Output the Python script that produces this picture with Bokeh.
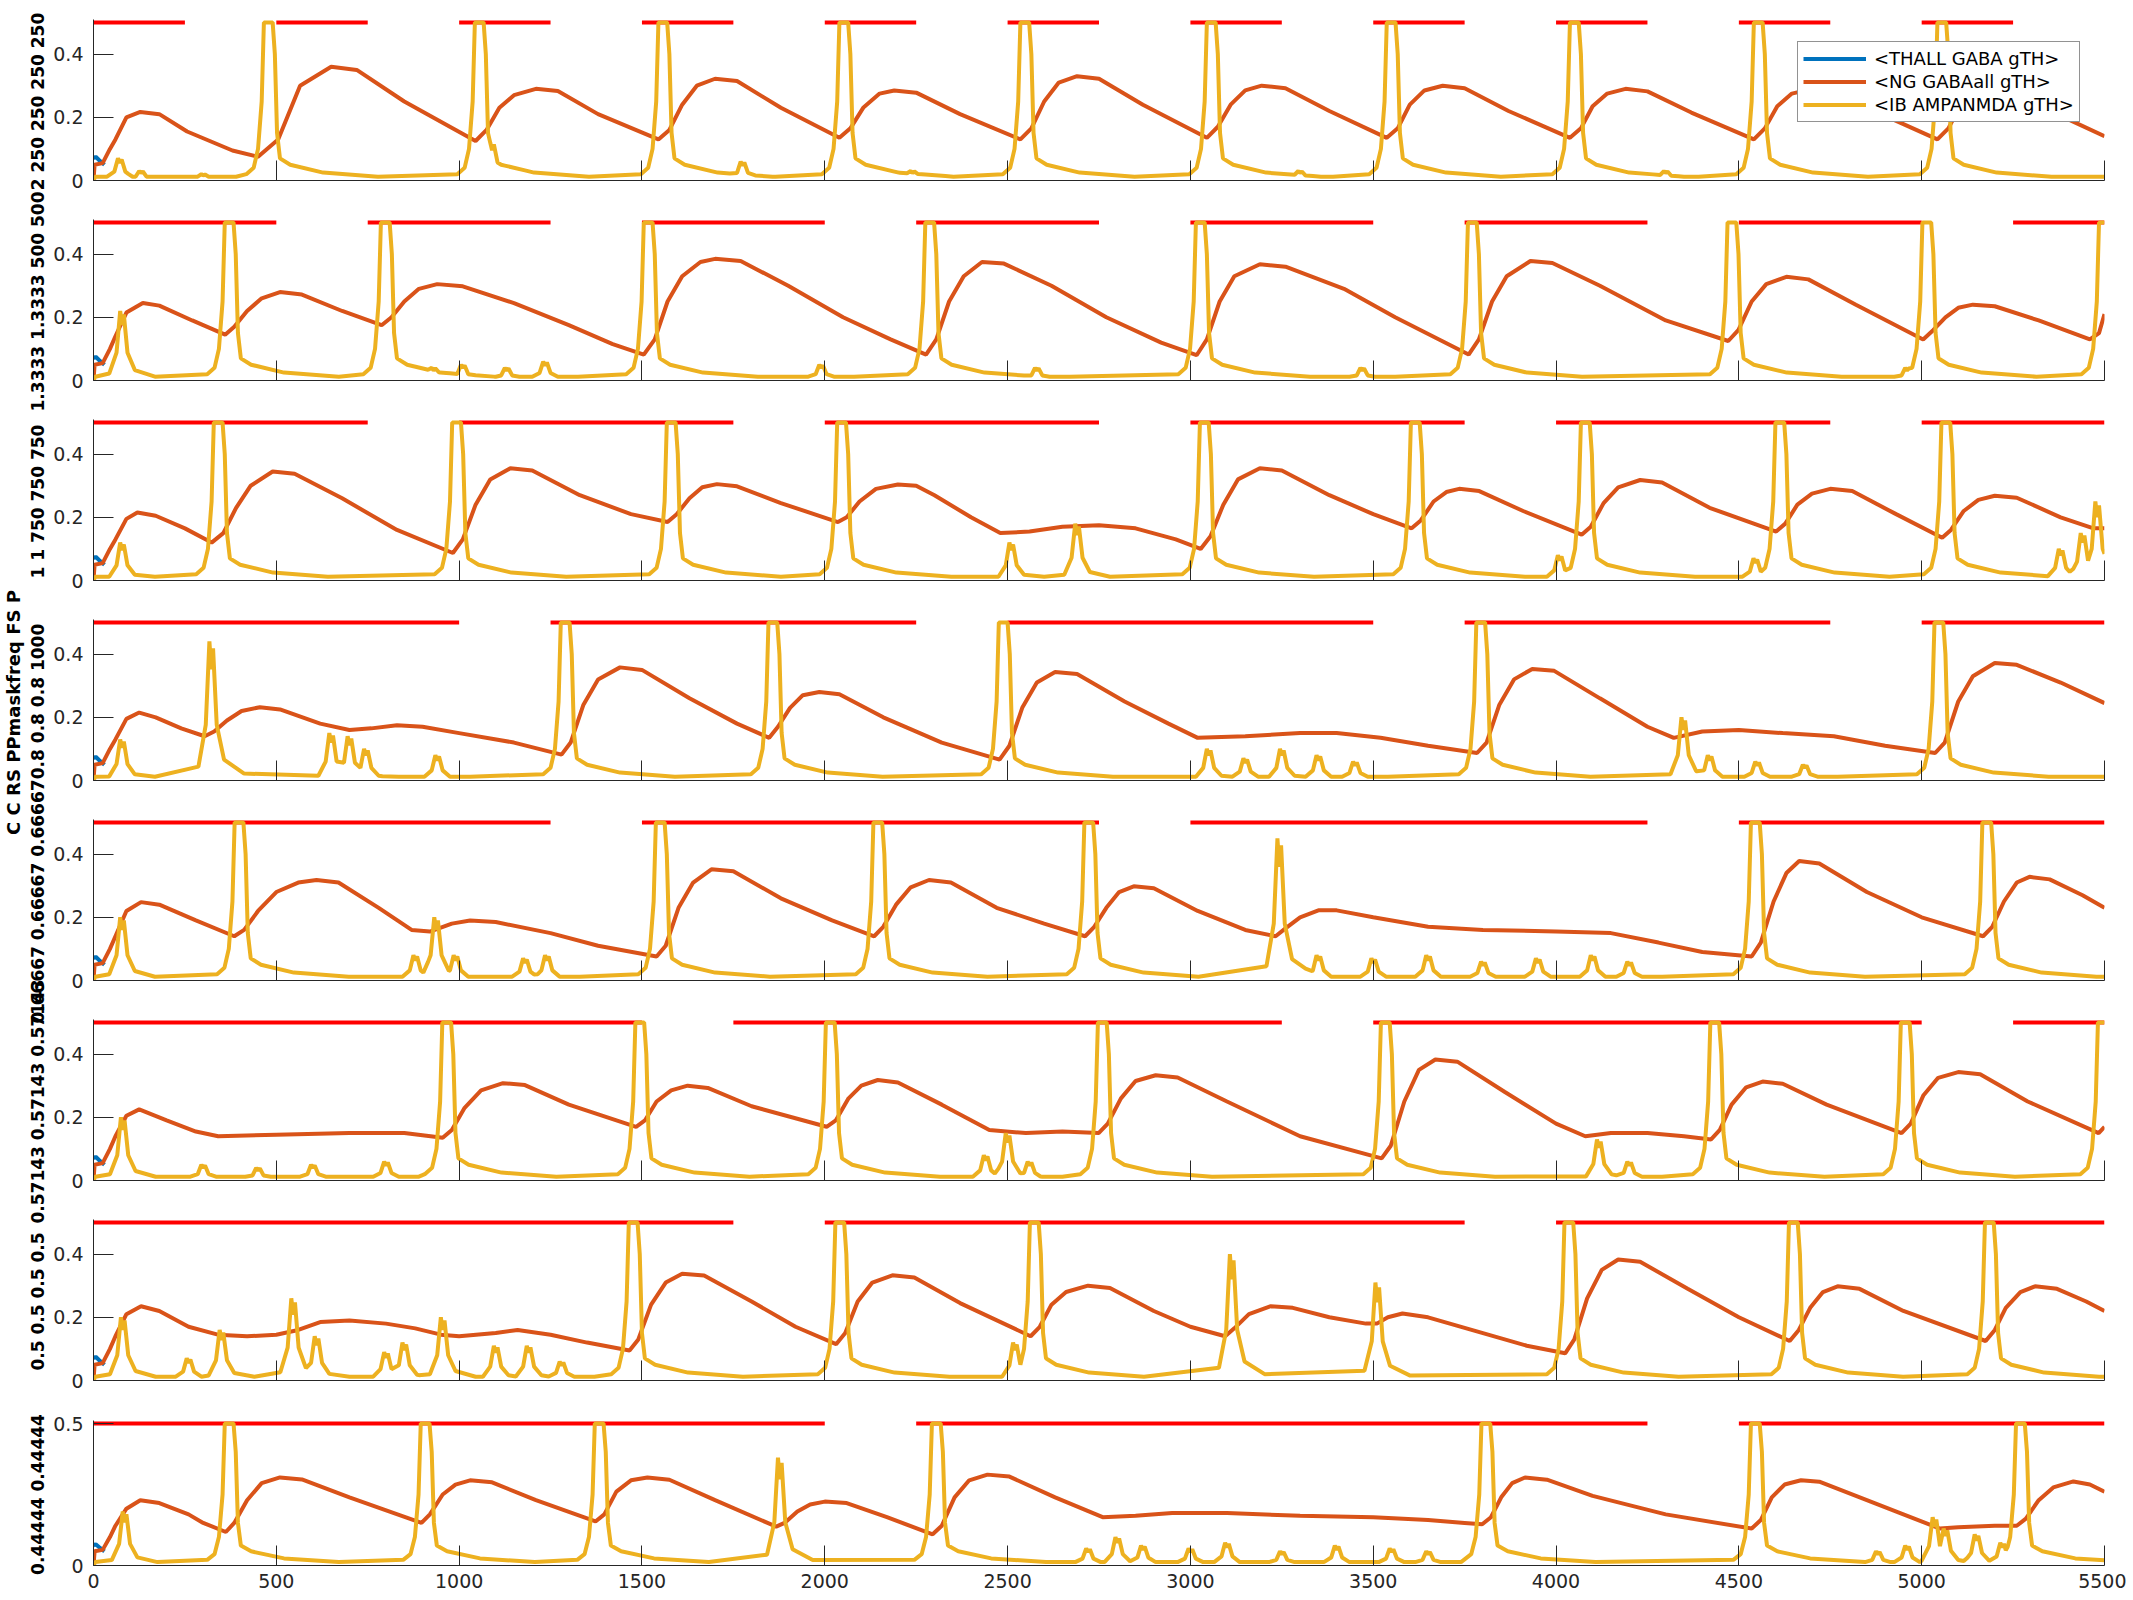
import numpy as np
from bokeh.plotting import figure
from bokeh.layouts import column, row
from bokeh.models import Range1d, FixedTicker, Legend, LegendItem, CustomJSTickFormatter
from bokeh.core.properties import value
from bokeh.embed import file_html
from bokeh.resources import INLINE

T_END = 5500
x_ticks = list(range(0, 5501, 500))

# y-label texts (overlapping parameter labels of the original)
side_label = "C C RS PPmaskfreq FS P"
panel_labels = ["2 250 250 250 250", "1.3333 1.3333 500 500", "1 1 750 750 750",
                "0.8 0.8 0.8 1000", "0.66667 0.66667 0.66667", "0.57143 0.57143 0.57143",
                "0.5 0.5 0.5 0.5", "0.44444 0.44444"]

# red mask windows (start, end) per panel
mask_1 = [(0, 250), (500, 750), (1000, 1250), (1500, 1750), (2000, 2250), (2500, 2750),
          (3000, 3250), (3500, 3750), (4000, 4250), (4500, 4750), (5000, 5250)]
mask_2 = [(0, 500), (750, 1250), (1500, 2000), (2250, 2750), (3000, 3500), (3750, 4250),
          (4500, 5000), (5250, 5500)]
mask_3 = [(0, 750), (1000, 1750), (2000, 2750), (3000, 3750), (4000, 4750), (5000, 5500)]
mask_4 = [(0, 1000), (1250, 2250), (2500, 3500), (3750, 4750), (5000, 5500)]
mask_5 = [(0, 1250), (1500, 2750), (3000, 4250), (4500, 5500)]
mask_6 = [(0, 1500), (1750, 3250), (3500, 5000), (5250, 5500)]
mask_7 = [(0, 1750), (2000, 3750), (4000, 5500)]
mask_8 = [(0, 2000), (2250, 4250), (4500, 5500)]

# <THALL GABA gTH> (only its start is visible, the rest lies under the other traces)
thall = [(0, 0.07), (6, 0.075), (15, 0.065), (30, 0.05)]

# <NG GABAall gTH> per panel (t, value)
ng_1 = [(0,0.0),(3,0.05),(25,0.055),(45,0.1),(60,0.13),(90,0.2),(128,0.217),(180,0.21),(256,0.155),(380,0.095),(450,0.075),
(505,0.13),(565,0.3),(650,0.36),(720,0.35),(850,0.25),(1045,0.125),
(1075,0.16),(1110,0.23),(1150,0.27),(1210,0.29),(1270,0.283),(1380,0.21),(1545,0.13),
(1575,0.16),(1610,0.24),(1650,0.3),(1700,0.322),(1760,0.315),(1880,0.23),(2040,0.135),
(2070,0.165),(2105,0.23),(2150,0.275),(2190,0.285),(2250,0.278),(2370,0.21),(2535,0.13),
(2565,0.165),(2600,0.25),(2640,0.31),(2690,0.33),(2750,0.322),(2870,0.24),(3045,0.135),
(3075,0.17),(3110,0.24),(3150,0.285),(3195,0.3),(3260,0.292),(3380,0.22),(3537,0.135),
(3567,0.165),(3600,0.24),(3640,0.285),(3690,0.3),(3750,0.292),(3870,0.22),(4038,0.135),
(4068,0.165),(4100,0.235),(4140,0.275),(4190,0.29),(4250,0.282),(4370,0.215),(4541,0.13),
(4571,0.165),(4605,0.235),(4645,0.275),(4700,0.29),(4760,0.282),(4880,0.215),(5043,0.13),
(5073,0.165),(5105,0.235),(5145,0.275),(5190,0.29),(5250,0.282),(5370,0.21),(5500,0.14)]
ng_2 = [(0,0.0),(3,0.05),(25,0.055),(45,0.1),(60,0.14),(90,0.215),(135,0.245),(180,0.237),(270,0.19),(360,0.145),
(385,0.17),(420,0.22),(460,0.26),(510,0.28),(570,0.272),(680,0.22),(788,0.175),
(815,0.2),(850,0.25),(890,0.29),(940,0.305),(1010,0.298),(1150,0.245),(1300,0.175),(1420,0.115),(1505,0.082),
(1535,0.13),(1570,0.25),(1610,0.33),(1660,0.375),(1700,0.385),(1770,0.378),(1900,0.3),(2050,0.2),(2180,0.13),(2277,0.082),
(2305,0.13),(2340,0.25),(2380,0.33),(2430,0.375),(2490,0.37),(2620,0.3),(2770,0.2),(2920,0.12),(3017,0.08),
(3045,0.13),(3080,0.25),(3120,0.33),(3190,0.368),(3260,0.36),(3420,0.29),(3560,0.2),(3680,0.13),(3761,0.082),
(3789,0.13),(3825,0.25),(3865,0.33),(3930,0.378),(3990,0.372),(4120,0.3),(4300,0.19),(4471,0.125),
(4499,0.16),(4535,0.25),(4575,0.305),(4630,0.328),(4690,0.32),(4820,0.24),(5004,0.13),
(5032,0.16),(5065,0.2),(5100,0.23),(5140,0.24),(5200,0.235),(5320,0.19),(5460,0.13),(5485,0.15),(5500,0.21)]
ng_3 = [(0,0.0),(3,0.05),(25,0.055),(45,0.1),(60,0.13),(90,0.195),(120,0.215),(170,0.205),(250,0.165),(323,0.12),
(355,0.15),(390,0.23),(430,0.3),(490,0.345),(550,0.338),(680,0.26),(830,0.16),(983,0.087),
(1010,0.13),(1045,0.24),(1085,0.32),(1140,0.355),(1200,0.348),(1330,0.27),(1470,0.21),(1570,0.185),
(1595,0.21),(1630,0.26),(1665,0.295),(1705,0.305),(1760,0.298),(1880,0.245),(2036,0.185),
(2060,0.2),(2095,0.25),(2140,0.29),(2200,0.304),(2250,0.3),(2300,0.27),(2400,0.2),(2480,0.15),(2560,0.155),(2650,0.17),(2750,0.175),(2850,0.165),(2960,0.13),(3028,0.1),
(3055,0.14),(3090,0.24),(3130,0.32),(3190,0.355),(3250,0.348),(3380,0.27),(3500,0.21),(3605,0.165),
(3630,0.19),(3665,0.25),(3700,0.28),(3735,0.29),(3790,0.283),(3910,0.22),(4070,0.145),
(4095,0.17),(4130,0.245),(4170,0.295),(4230,0.318),(4290,0.31),(4420,0.23),(4602,0.155),
(4627,0.18),(4660,0.24),(4700,0.275),(4750,0.29),(4810,0.283),(4930,0.21),(5056,0.135),
(5080,0.16),(5115,0.22),(5155,0.255),(5200,0.268),(5260,0.262),(5380,0.2),(5470,0.165),(5500,0.165)]
ng_4 = [(0,0.0),(3,0.05),(25,0.055),(45,0.1),(60,0.13),(90,0.195),(125,0.215),(170,0.2),(240,0.165),(304,0.14),
(330,0.155),(365,0.19),(405,0.22),(455,0.232),(510,0.225),(620,0.18),(700,0.16),(760,0.165),(830,0.175),(900,0.17),(1000,0.15),(1150,0.12),(1280,0.082),
(1305,0.12),(1340,0.24),(1380,0.32),(1440,0.358),(1500,0.35),(1630,0.26),(1760,0.18),(1848,0.135),
(1872,0.17),(1905,0.23),(1940,0.27),(1985,0.28),(2040,0.273),(2160,0.2),(2320,0.12),(2478,0.066),
(2505,0.11),(2540,0.23),(2580,0.31),(2630,0.343),(2690,0.337),(2820,0.25),(2940,0.18),(3020,0.135),(3150,0.14),(3300,0.15),(3400,0.15),(3520,0.135),(3650,0.11),(3784,0.087),
(3810,0.12),(3845,0.24),(3885,0.32),(3935,0.353),(3995,0.347),(4120,0.26),(4250,0.17),(4322,0.135),(4400,0.155),(4500,0.16),(4620,0.15),(4760,0.14),(4900,0.11),(5037,0.087),
(5063,0.12),(5100,0.25),(5140,0.33),(5200,0.372),(5260,0.366),(5380,0.31),(5500,0.245)]
ng_5 = [(0,0.0),(3,0.05),(25,0.055),(45,0.1),(60,0.14),(90,0.22),(130,0.248),(180,0.24),(280,0.19),(385,0.14),
(412,0.16),(450,0.22),(500,0.28),(560,0.31),(610,0.318),(670,0.31),(780,0.23),(870,0.16),(920,0.155),(980,0.18),(1030,0.19),(1100,0.185),(1250,0.15),(1380,0.11),(1540,0.076),
(1565,0.11),(1600,0.23),(1640,0.31),(1690,0.352),(1750,0.346),(1880,0.26),(2020,0.19),(2135,0.14),
(2160,0.17),(2195,0.24),(2235,0.295),(2285,0.318),(2345,0.31),(2470,0.23),(2600,0.18),(2712,0.14),
(2737,0.17),(2770,0.23),(2805,0.28),(2845,0.298),(2900,0.292),(3020,0.22),(3150,0.16),(3233,0.14),
(3260,0.165),(3300,0.2),(3350,0.222),(3400,0.222),(3500,0.2),(3650,0.17),(3800,0.16),(4000,0.155),(4150,0.15),(4280,0.12),(4400,0.09),(4535,0.076),
(4560,0.12),(4595,0.25),(4630,0.34),(4665,0.378),(4720,0.37),(4850,0.28),(5000,0.2),(5168,0.14),
(5193,0.17),(5225,0.25),(5260,0.31),(5295,0.328),(5350,0.32),(5440,0.27),(5500,0.23)]
ng_6 = [(0,0.0),(3,0.05),(25,0.055),(45,0.1),(60,0.14),(90,0.205),(125,0.225),(200,0.19),(280,0.155),(341,0.14),(500,0.145),(700,0.15),(850,0.15),(955,0.135),
(980,0.16),(1015,0.23),(1060,0.285),(1120,0.308),(1180,0.302),(1300,0.24),(1484,0.17),
(1508,0.19),(1540,0.25),(1580,0.285),(1625,0.3),(1680,0.293),(1800,0.235),(2005,0.17),
(2030,0.19),(2065,0.26),(2100,0.3),(2145,0.318),(2200,0.31),(2320,0.24),(2450,0.16),(2550,0.15),(2650,0.155),(2749,0.15),
(2774,0.18),(2810,0.26),(2850,0.315),(2905,0.333),(2965,0.326),(3100,0.25),(3300,0.14),(3523,0.07),
(3548,0.11),(3585,0.25),(3625,0.35),(3670,0.383),(3730,0.376),(3860,0.28),(4000,0.18),(4080,0.14),(4150,0.15),(4250,0.15),(4350,0.14),(4424,0.13),
(4448,0.16),(4480,0.24),(4520,0.295),(4565,0.313),(4620,0.306),(4740,0.24),(4945,0.15),
(4970,0.18),(5005,0.27),(5045,0.325),(5100,0.343),(5160,0.336),(5290,0.25),(5484,0.15),(5500,0.17)]
ng_7 = [(0,0.0),(3,0.05),(25,0.055),(45,0.1),(60,0.14),(90,0.21),(130,0.235),(180,0.22),(260,0.17),(340,0.145),(420,0.14),(500,0.145),(560,0.16),(620,0.185),(700,0.19),(800,0.18),(880,0.165),(950,0.145),(1000,0.14),(1100,0.15),(1160,0.16),(1250,0.145),(1350,0.12),(1466,0.095),
(1490,0.13),(1525,0.24),(1565,0.31),(1610,0.338),(1670,0.332),(1800,0.25),(1920,0.17),(2031,0.115),
(2056,0.15),(2090,0.25),(2130,0.31),(2185,0.333),(2245,0.326),(2370,0.245),(2563,0.14),
(2588,0.17),(2620,0.24),(2660,0.28),(2720,0.3),(2780,0.293),(2900,0.22),(3000,0.17),(3095,0.14),
(3120,0.165),(3160,0.21),(3220,0.235),(3280,0.23),(3380,0.2),(3480,0.18),(3510,0.18),(3540,0.2),(3580,0.212),(3650,0.2),(3800,0.15),(3920,0.11),(4025,0.086),
(4050,0.13),(4085,0.26),(4125,0.35),(4170,0.383),(4230,0.376),(4360,0.29),(4500,0.2),(4639,0.125),
(4664,0.16),(4695,0.23),(4730,0.28),(4770,0.298),(4830,0.29),(4950,0.22),(5175,0.125),
(5200,0.16),(5230,0.23),(5270,0.28),(5310,0.298),(5370,0.29),(5450,0.25),(5500,0.22)]
ng_8 = [(0,0.0),(3,0.05),(25,0.055),(45,0.1),(60,0.14),(90,0.2),(128,0.23),(180,0.22),(260,0.18),(300,0.15),(362,0.118),
(385,0.15),(420,0.23),(460,0.29),(510,0.31),(570,0.303),(700,0.24),(897,0.15),
(920,0.18),(955,0.25),(990,0.285),(1030,0.3),(1090,0.293),(1210,0.23),(1373,0.155),
(1397,0.18),(1430,0.26),(1470,0.3),(1515,0.31),(1575,0.302),(1700,0.23),(1867,0.137),
(1890,0.15),(1925,0.19),(1960,0.215),(2000,0.225),(2060,0.22),(2170,0.17),(2295,0.11),
(2320,0.14),(2355,0.24),(2395,0.3),(2445,0.32),(2505,0.313),(2630,0.24),(2760,0.17),(2850,0.175),(2950,0.185),(3100,0.185),(3300,0.175),(3500,0.17),(3650,0.16),(3750,0.15),(3798,0.145),
(3822,0.17),(3850,0.24),(3880,0.29),(3915,0.31),(3975,0.302),(4100,0.245),(4300,0.18),(4535,0.13),
(4560,0.16),(4590,0.24),(4625,0.285),(4670,0.3),(4720,0.295),(4850,0.23),(4950,0.18),(5050,0.13),(5100,0.135),(5200,0.14),(5260,0.14),
(5285,0.165),(5320,0.23),(5360,0.275),(5415,0.296),(5460,0.285),(5500,0.26)]

# <IB AMPANMDA gTH>: saturating bursts (times) and smaller bumps (time, height)
ib_spikes_1 = [478, 1055, 1557, 2052, 2547, 3057, 3549, 4050, 4553, 5055]
ib_bumps_1 = [(72, 0.07), (130, 0.03), (300, 0.02), (1090, 0.12), (1775, 0.06), (2240, 0.03), (3300, 0.03), (4300, 0.03)]
ib_spikes_2 = [371, 798, 1517, 2287, 3027, 3771, 4481, 5014, 5497]
ib_bumps_2 = [(78, 0.22), (930, 0.04), (1010, 0.05), (1130, 0.04), (1235, 0.06), (1990, 0.05), (2580, 0.04), (3470, 0.04), (4960, 0.04)]
ib_spikes_3 = [341, 993, 1580, 2046, 3038, 3615, 4080, 4612, 5066]
ib_bumps_3 = [(78, 0.12), (2510, 0.12), (2690, 0.18), (4010, 0.08), (4545, 0.07), (5380, 0.1), (5440, 0.15), (5480, 0.25)]
ib_spikes_4 = [1290, 1858, 2488, 3794, 5047]
ib_bumps_4 = [(78, 0.13), (322, 0.44), (650, 0.15), (700, 0.14), (745, 0.1), (940, 0.08), (3050, 0.1), (3150, 0.07), (3250, 0.1), (3350, 0.08), (3450, 0.06), (4348, 0.2), (4420, 0.08), (4550, 0.06), (4680, 0.05)]
ib_spikes_5 = [398, 1550, 2145, 2722, 4545, 5178]
ib_bumps_5 = [(78, 0.2), (880, 0.08), (937, 0.2), (990, 0.08), (1180, 0.07), (1240, 0.08), (3243, 0.45), (3350, 0.08), (3500, 0.07), (3650, 0.08), (3800, 0.06), (3950, 0.07), (4100, 0.08), (4200, 0.06)]
ib_spikes_6 = [966, 1494, 2015, 2759, 3533, 4434, 4955, 5494]
ib_bumps_6 = [(80, 0.2), (300, 0.05), (450, 0.04), (600, 0.05), (800, 0.06), (2440, 0.08), (2500, 0.15), (2560, 0.06), (4117, 0.13), (4200, 0.06)]
ib_spikes_7 = [1476, 2041, 2573, 4035, 4649, 5185]
ib_bumps_7 = [(80, 0.2), (260, 0.07), (350, 0.16), (546, 0.26), (610, 0.14), (800, 0.09), (850, 0.12), (955, 0.2), (1100, 0.11), (1190, 0.11), (1280, 0.06), (2520, 0.12), (3113, 0.4), (3511, 0.31)]
ib_spikes_8 = [371, 907, 1383, 2305, 3808, 4545, 5270]
ib_bumps_8 = [(85, 0.19), (1877, 0.38), (2720, 0.06), (2800, 0.1), (2870, 0.07), (3000, 0.06), (3100, 0.08), (3250, 0.05), (3400, 0.07), (3550, 0.06), (3650, 0.05), (4880, 0.05), (4960, 0.07), (5035, 0.17), (5065, 0.13), (5150, 0.11), (5220, 0.08)]

masks = [mask_1, mask_2, mask_3, mask_4, mask_5, mask_6, mask_7, mask_8]
ngs = [ng_1, ng_2, ng_3, ng_4, ng_5, ng_6, ng_7, ng_8]
ib_spikes = [ib_spikes_1, ib_spikes_2, ib_spikes_3, ib_spikes_4, ib_spikes_5, ib_spikes_6, ib_spikes_7, ib_spikes_8]
ib_bumps = [ib_bumps_1, ib_bumps_2, ib_bumps_3, ib_bumps_4, ib_bumps_5, ib_bumps_6, ib_bumps_7, ib_bumps_8]

BLUE, ORANGE, YELLOW, RED, AX = "#0072BD", "#D95319", "#EDB120", "#FF0000", "#262626"
FONT = "DejaVu Sans"

# drawing shape of a burst (offset ms, relative height)
SPIKE_T = np.array([-60, -40, -28, -18, -12, 12, 18, 24, 32, 60, 150, 300], float)
SPIKE_V = np.array([0.04, 0.08, 0.2, 0.5, 1.0, 1.0, 0.8, 0.3, 0.14, 0.1, 0.05, 0.024])
BUMP_T = np.array([-35, -15, -5, 0, 5, 15, 35, 90], float)
BUMP_V = np.array([0.1, 0.4, 1.0, 0.8, 0.95, 0.4, 0.15, 0.05])
BASE = 0.012


def ib_trace(spikes, bumps):
    events = [(t, 0.5, SPIKE_T, SPIKE_V) for t in spikes] + [(t, h, BUMP_T, BUMP_V) for t, h in bumps]
    ts = {5.0, float(T_END)}
    for t0, h, T, V in events:
        for d in T:
            tt = t0 + d
            if 0 < tt <= T_END:
                ts.add(float(tt))
    ts = np.array(sorted(ts))
    vals = np.full(ts.shape, BASE)
    for t0, h, T, V in events:
        vals = np.maximum(vals, np.interp(ts - t0, T, V * h, left=0, right=0))
    return np.concatenate([[0.0], ts]), np.concatenate([[0.0], vals])


yfmt = CustomJSTickFormatter(code="return String(Math.round(tick*1000)/1000);")

panels = []
for i in range(8):
    last = i == 7
    fh = 145 if last else 161
    ytop = 0.5 * (1 + 3 / 142) if last else 0.5 * (1 + 3 / 158)
    top = 19 if i == 0 else (12 if last else 11)
    p = figure(frame_width=2011, frame_height=fh, x_range=Range1d(0, T_END), y_range=Range1d(0, ytop),
               output_backend="svg", toolbar_location=None,
               min_border_left=43, min_border_right=22,
               min_border_top=top, min_border_bottom=30 if last else 28)
    p.outline_line_color = None
    p.xgrid.visible = False
    p.ygrid.visible = False
    p.background_fill_color = "white"

    m = masks[i]
    p.segment(x0=[a for a, b in m], x1=[b for a, b in m], y0=[0.5] * len(m), y1=[0.5] * len(m),
              line_color=RED, line_width=4)
    rb = p.line([t for t, v in thall], [v for t, v in thall], line_color=BLUE, line_width=4)
    ro = p.line([t for t, v in ngs[i]], [v for t, v in ngs[i]], line_color=ORANGE, line_width=4)
    yt, yv = ib_trace(ib_spikes[i], ib_bumps[i])
    ry = p.line(yt, yv, line_color=YELLOW, line_width=4)

    for ax in (p.xaxis[0], p.yaxis[0]):
        ax.axis_line_color = AX
        ax.axis_line_width = 1
        ax.major_tick_line_color = AX
        ax.major_tick_in = 20
        ax.major_tick_out = 0
        ax.minor_tick_line_color = None
        ax.major_label_text_font = FONT
        ax.major_label_text_font_size = "19px"
        ax.major_label_text_color = AX
    p.xaxis.ticker = FixedTicker(ticks=x_ticks)
    p.yaxis.ticker = FixedTicker(ticks=[0, 0.5] if last else [0, 0.2, 0.4])
    p.yaxis.formatter = yfmt
    p.yaxis.major_label_standoff = 10
    if last:
        p.xaxis.major_label_standoff = 8
    else:
        p.xaxis.major_label_text_color = None
        p.xaxis.major_label_text_font_size = "10px"
        p.xaxis.major_label_standoff = 0

    if i == 0:
        legend = Legend(items=[LegendItem(label="<THALL GABA gTH>", renderers=[rb]),
                               LegendItem(label="<NG GABAall gTH>", renderers=[ro]),
                               LegendItem(label="<IB AMPANMDA gTH>", renderers=[ry])],
                        location=(1704, 58))
        legend.label_text_font = FONT
        legend.label_text_font_size = "18px"
        legend.label_text_color = "black"
        legend.border_line_color = AX
        legend.border_line_width = 1
        legend.background_fill_color = "white"
        legend.background_fill_alpha = 1
        legend.padding = 5
        legend.spacing = 0
        legend.margin = 0
        legend.glyph_width = 63
        legend.glyph_height = 23
        legend.label_height = 23
        legend.label_standoff = 8
        p.add_layout(legend)
    panels.append(p)

# left strip holding the rotated, overlapping y labels
H = 1595
lab = figure(width=50, height=H, x_range=Range1d(0, 50), y_range=Range1d(0, H),
             x_axis_location=None, y_axis_location=None, min_border=0,
             toolbar_location=None, output_backend="svg")
lab.outline_line_color = None
lab.xgrid.visible = False
lab.ygrid.visible = False
centers = [H - (101 + 200 * k) for k in range(7)] + [H - 1494]
lab.text(x=[37] * 8, y=centers, text=panel_labels, angle=np.pi / 2,
         text_align="center", text_baseline="middle", text_font=value(FONT),
         text_font_style="bold", text_font_size="17px", text_color="black")
lab.text(x=[12.5], y=[H - 712], text=[side_label], angle=np.pi / 2,
         text_align="center", text_baseline="middle", text_font=value(FONT),
         text_font_style="bold", text_font_size="18px", text_color="black")

layout = row(lab, column(*panels, spacing=0), spacing=0)
open("out.html", "w").write(file_html(layout, INLINE))
